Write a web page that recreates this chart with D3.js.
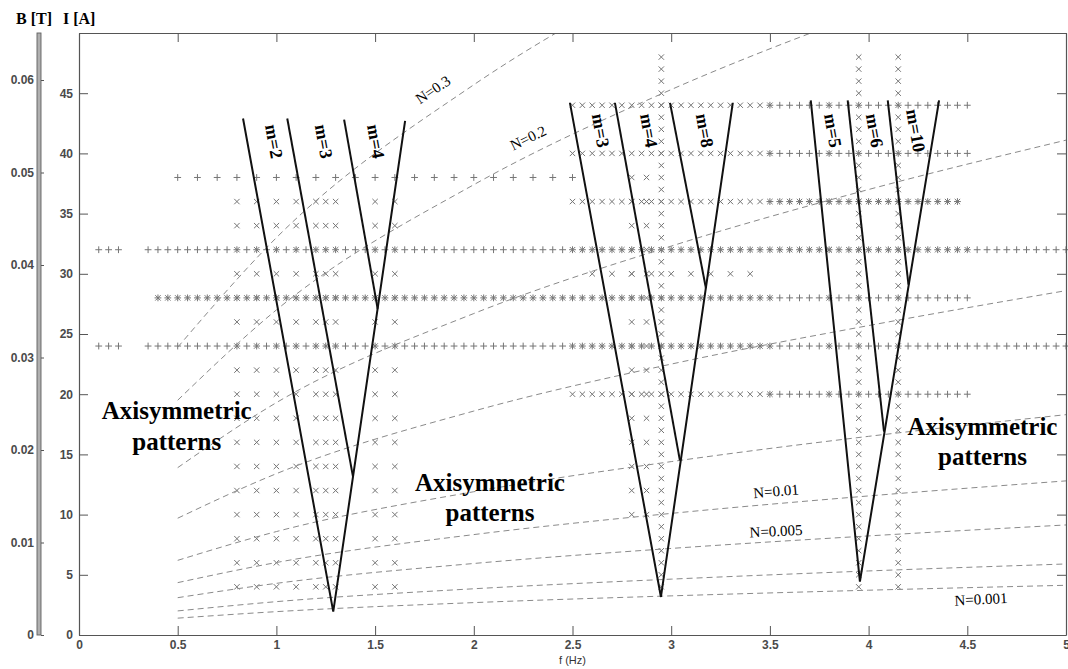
<!DOCTYPE html>
<html>
<head>
<meta charset="utf-8">
<script src="https://cdn.jsdelivr.net/npm/d3@7"></script>
<style>
  body { margin: 0; background: #fff; }
  svg { display: block; }
</style>
</head>
<body>
<div id="vis"></div>
<script>
var width = 1068;
var height = 669;

// tick labels
var fTicks = [0, 0.5, 1, 1.5, 2, 2.5, 3, 3.5, 4, 4.5, 5];
var iTicks = [0, 5, 10, 15, 20, 25, 30, 35, 40, 45];
var bTicks = [0, 0.01, 0.02, 0.03, 0.04, 0.05, 0.06];

// experiment grid, "+" rows: [I, f from, f to, step]
var plusRows = [
  [24, 0.1, 0.2, 0.05], [24, 0.35, 5.0, 0.05],
  [32, 0.1, 0.2, 0.05], [32, 0.35, 5.0, 0.05],
  [28, 0.4, 4.5, 0.05],
  [38, 0.5, 2.5, 0.1],
  [20, 3.5, 4.5, 0.05],
  [36, 3.5, 4.45, 0.05],
  [40, 3.5, 4.5, 0.05],
  [44, 3.5, 4.5, 0.05]
];

// "x" rows: [I, f from, f to, step]
var crossRows = [
  [28, 0.4, 3.5, 0.05],
  [20, 2.5, 3.5, 0.05],
  [24, 2.5, 3.5, 0.05],
  [32, 2.5, 4.5, 0.05],
  [36, 2.5, 4.45, 0.05],
  [40, 2.5, 3.5, 0.05],
  [44, 2.5, 3.5, 0.05],
  [30, 2.6, 3.4, 0.1]
];

// "x" columns: [f, I from, I to, step]
var crossCols = [
  [0.8, 4, 36, 2], [0.9, 4, 36, 2], [1.0, 4, 36, 2], [1.1, 4, 36, 2],
  [1.2, 4, 36, 2], [1.25, 4, 36, 2], [1.3, 4, 36, 2], [1.5, 4, 36, 2], [1.6, 4, 36, 2],
  [2.8, 10, 38, 2], [2.875, 10, 38, 2],
  [2.95, 4, 48, 1],
  [3.8, 20, 44, 4],
  [3.95, 4, 48, 1],
  [4.15, 4, 48, 1]
];

// constant N curves, I [A] read at these frequencies
var nFreq = [0.5, 1, 2, 3, 4, 5];
var nCurves = [
  [1.40, 1.94, 2.69, 3.25, 3.72, 4.13],
  [2.00, 2.77, 3.84, 4.64, 5.32, 5.90],
  [3.10, 4.29, 5.94, 7.19, 8.23, 9.14],
  [4.35, 6.02, 8.34, 10.1, 11.55, 12.8],
  [6.20, 8.59, 11.9, 14.4, 16.5, 18.3],
  [9.70, 13.4, 18.6, 22.5, 25.7, 28.6],
  [13.9, 19.3, 26.7, 32.3, 37.0, 41.1],
  [19.5, 27.0, 37.4, 45.3, 51.8, 57.5],
  [23.9, 33.0, 45.7, 55.3, 63.3, 70.3]
];
// labels: [text, f, I, angle]
var nLabels = [
  ["N=0.3", 1.793, 45.3, -34],
  ["N=0.2", 2.275, 41.3, -26],
  ["N=0.01", 3.531, 11.96, -5],
  ["N=0.005", 3.531, 8.64, -3],
  ["N=0.001", 4.569, 2.99, -3]
];

// stability boundaries (f, I) per group
var boundaries = [
  [[0.831, 42.9], [1.288, 1.94], [1.652, 42.7]],
  [[1.055, 42.9], [1.388, 13.15]],
  [[1.343, 42.8], [1.513, 27.1]],
  [[2.487, 44.2], [2.948, 3.16], [3.312, 44.2]],
  [[2.715, 44.2], [3.044, 14.5]],
  [[2.994, 44.2], [3.176, 28.8]],
  [[3.707, 44.4], [3.956, 4.43], [4.357, 44.4]],
  [[3.894, 44.4], [4.078, 16.9]],
  [[4.097, 44.4], [4.202, 29.1]]
];
var modeLabels = [
  ["m=2", 0.989, 41.0], ["m=3", 1.241, 41.0], ["m=4", 1.505, 41.0],
  ["m=3", 2.644, 41.9], ["m=4", 2.888, 41.9], ["m=8", 3.171, 41.9],
  ["m=5", 3.820, 41.9], ["m=6", 4.032, 41.9], ["m=10", 4.240, 41.9]
];
var regionLabels = [
  ["Axisymmetric", 0.495, 17.94], ["patterns", 0.495, 15.37],
  ["Axisymmetric", 2.082, 11.96], ["patterns", 2.082, 9.47],
  ["Axisymmetric", 4.577, 16.61], ["patterns", 4.577, 14.12]
];

var x = d3.scaleLinear().domain([0, 5]).range([79, 1066]);
var y = d3.scaleLinear().domain([0, 50]).range([635, 33]);
var yB = d3.scaleLinear().domain([0, 0.06]).range([635, 80]);

var svg = d3.select("#vis").append("svg")
  .attr("width", width).attr("height", height)
  .attr("viewBox", [0, 0, width, height]);

svg.append("clipPath").attr("id", "plot")
  .append("rect")
  .attr("x", x(0)).attr("y", y(50))
  .attr("width", x(5) - x(0)).attr("height", y(0) - y(50));

// build marker points
var plusPts = [];
plusRows.forEach(function(r) {
  d3.range(r[1], r[2] + r[3] / 2, r[3]).forEach(function(f) { plusPts.push([f, r[0]]); });
});
var crossPts = [];
crossRows.forEach(function(r) {
  d3.range(r[1], r[2] + r[3] / 2, r[3]).forEach(function(f) { crossPts.push([f, r[0]]); });
});
crossCols.forEach(function(c) {
  d3.range(c[1], c[2] + c[3] / 2, c[3]).forEach(function(i) { crossPts.push([c[0], i]); });
});

var marks = svg.append("g").attr("stroke", "#757575").attr("stroke-width", 1).attr("fill", "none");
marks.selectAll(".p").data(plusPts).enter().append("path")
  .attr("class", "p")
  .attr("transform", d => `translate(${x(d[0])},${y(d[1])})`)
  .attr("d", "M-3.4,0H3.4M0,-3.4V3.4");
marks.selectAll(".c").data(crossPts).enter().append("path")
  .attr("class", "c")
  .attr("transform", d => `translate(${x(d[0])},${y(d[1])})`)
  .attr("d", "M-2.7,-2.7L2.7,2.7M-2.7,2.7L2.7,-2.7");

// N curves
var nLine = d3.line()
  .x((d, i) => x(nFreq[i]))
  .y(d => y(d))
  .curve(d3.curveMonotoneX);
svg.append("g").attr("clip-path", "url(#plot)")
  .selectAll("path").data(nCurves).enter().append("path")
  .attr("d", nLine)
  .attr("fill", "none")
  .attr("stroke", "#8a8a8a")
  .attr("stroke-width", 1)
  .attr("stroke-dasharray", "6,4");

// boundaries
var bLine = d3.line().x(d => x(d[0])).y(d => y(d[1]));
svg.append("g")
  .selectAll("path").data(boundaries).enter().append("path")
  .attr("d", bLine)
  .attr("fill", "none")
  .attr("stroke", "#111")
  .attr("stroke-width", 2);

// axes
function fmt(d) { return d3.format("~g")(d); }
var axisStyle = function(g) {
  g.selectAll(".domain").attr("stroke", "#555").attr("stroke-width", 1.2);
  g.selectAll(".tick line").attr("stroke", "#555");
  g.selectAll("text").attr("fill", "#4a4a4a")
    .style("font", "bold 12px 'Liberation Sans', Arial, sans-serif");
};
svg.append("g").attr("transform", `translate(0,${y(0)})`)
  .call(d3.axisBottom(x).tickValues(fTicks).tickFormat(fmt).tickSize(-9).tickSizeOuter(0).tickPadding(5))
  .call(axisStyle);
svg.append("g").attr("transform", `translate(0,${y(50)})`)
  .call(d3.axisTop(x).tickValues(fTicks).tickFormat("").tickSize(-9).tickSizeOuter(0))
  .call(axisStyle);
svg.append("g").attr("transform", `translate(${x(0)},0)`)
  .call(d3.axisLeft(y).tickValues(iTicks).tickFormat(fmt).tickSize(-9).tickSizeOuter(0).tickPadding(6))
  .call(axisStyle);
svg.append("g").attr("transform", `translate(${x(5)},0)`)
  .call(d3.axisRight(y).tickValues(iTicks).tickFormat("").tickSize(-9).tickSizeOuter(0))
  .call(axisStyle);

// B axis
svg.append("rect")
  .attr("x", 37).attr("y", y(50))
  .attr("width", 4).attr("height", y(0) - y(50))
  .attr("fill", "#b0b0b0").attr("stroke", "#606060").attr("stroke-width", 0.9);
var gB = svg.append("g").attr("transform", "translate(41,0)")
  .call(d3.axisLeft(yB).tickValues(bTicks).tickFormat(fmt).tickSize(-3).tickSizeOuter(0).tickPadding(7))
  .call(axisStyle);
gB.select(".domain").remove();

// axis titles
svg.append("text").attr("x", 16).attr("y", 24).text("B [T]")
  .style("font", "bold 16px 'Liberation Serif', 'Times New Roman', serif");
svg.append("text").attr("x", 63).attr("y", 24).text("I [A]")
  .style("font", "bold 16px 'Liberation Serif', 'Times New Roman', serif");
svg.append("text").attr("x", x(2.5)).attr("y", 664).attr("text-anchor", "middle")
  .attr("fill", "#333").text("f (Hz)")
  .style("font", "11px 'Liberation Sans', Arial, sans-serif");

// N labels
svg.append("g").selectAll("text").data(nLabels).enter().append("text")
  .attr("transform", d => `translate(${x(d[1])},${y(d[2])}) rotate(${d[3]})`)
  .attr("text-anchor", "middle").attr("dy", "0.35em")
  .style("font", "15px 'Liberation Serif', 'Times New Roman', serif")
  .text(d => d[0]);

// mode labels
svg.append("g").selectAll("text").data(modeLabels).enter().append("text")
  .attr("transform", d => `translate(${x(d[1])},${y(d[2])}) rotate(80)`)
  .attr("text-anchor", "middle").attr("dy", "0.35em")
  .style("font", "bold 18px 'Liberation Serif', 'Times New Roman', serif")
  .text(d => d[0]);

// region labels
svg.append("g").selectAll("text").data(regionLabels).enter().append("text")
  .attr("x", d => x(d[1])).attr("y", d => y(d[2]))
  .attr("text-anchor", "middle")
  .style("font", "bold 25px 'Liberation Serif', 'Times New Roman', serif")
  .text(d => d[0]);
</script>
</body>
</html>
